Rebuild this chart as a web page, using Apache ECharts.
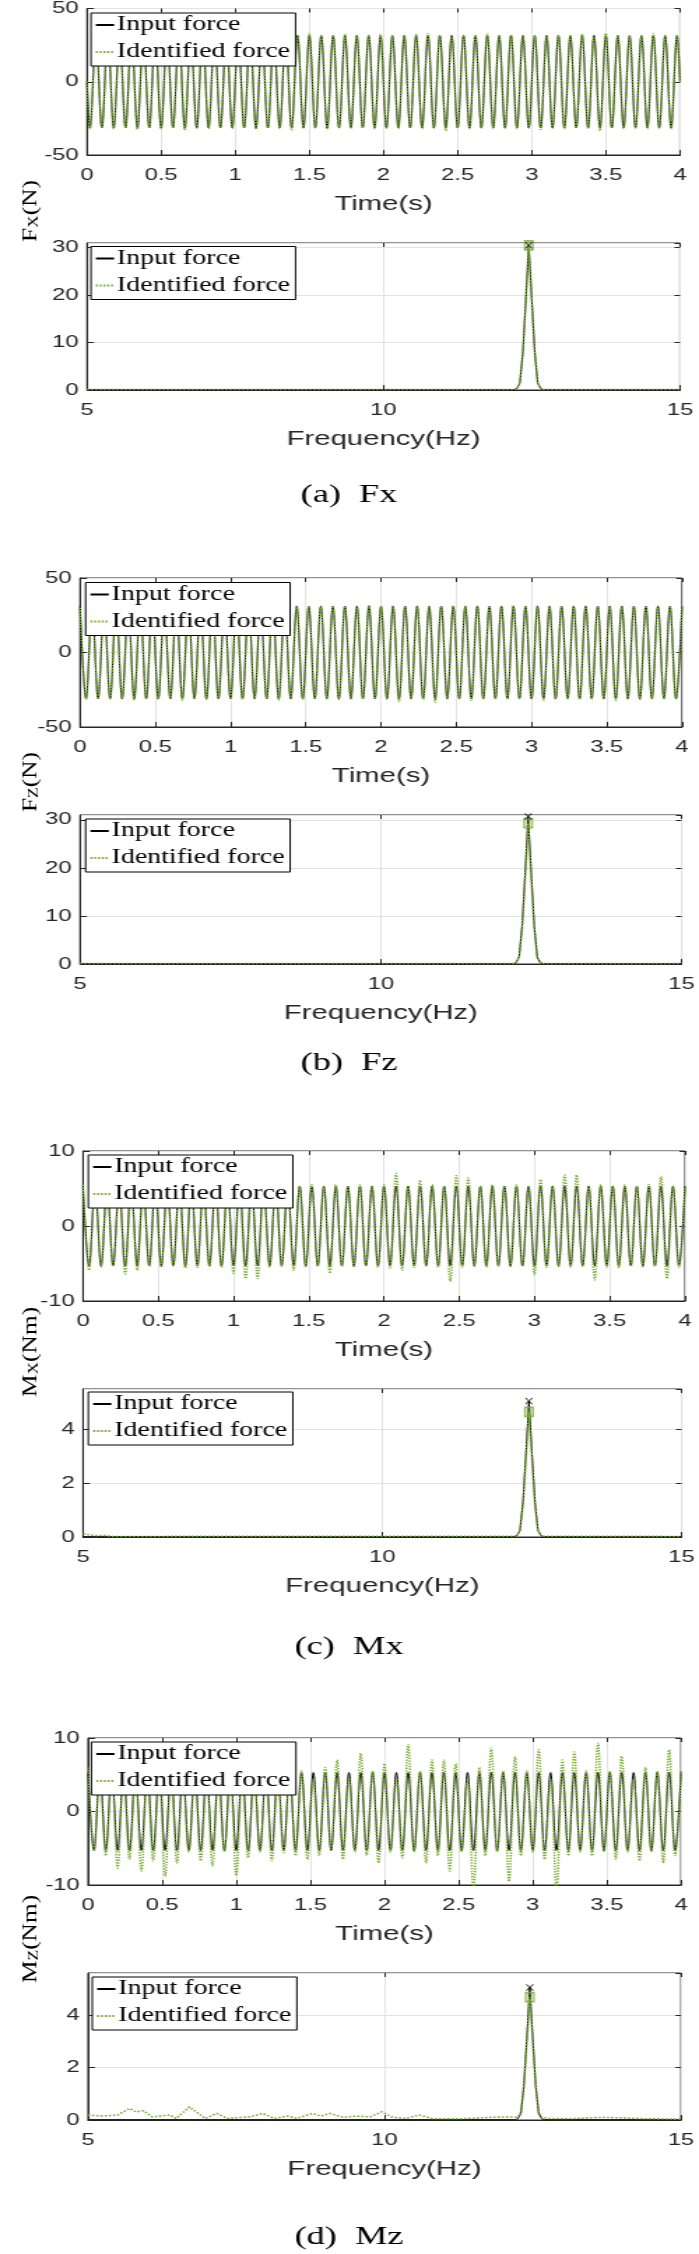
<!DOCTYPE html>
<html><head><meta charset="utf-8">
<script src="https://cdn.jsdelivr.net/npm/echarts@6/dist/echarts.min.js"></script>
<style>
html,body{margin:0;padding:0;background:#fff;overflow:hidden}
#wrap{width:699px;height:2254px;overflow:hidden;background:#fff}
#c{width:500px;height:2254px;transform:scaleX(1.398);transform-origin:0 0}
</style></head>
<body><div id="wrap"><div id="c"></div></div>
<script>
// ---------------- DATA ----------------
// Time signals: one value per half-cycle extremum (peak/trough)
const fxStartEnd = [0, 0];               // Fx value at t=0 and t=4
const fxFirstExtremumTime = 0.02;        // s
const fzFirstExtremumTime = 0.00;        // s (Fz, Mx, Mz start on a peak)
const extremumStep = 0.04;               // s, half period of the 12.5 Hz excitation

const fxInput = [
-31.5,31.5,-31.5,31.5,-31.5,31.5,-31.5,31.5,-31.5,31.5,
-31.5,31.5,-31.5,31.5,-31.5,31.5,-31.5,31.5,-31.5,31.5,
-31.5,31.5,-31.5,31.5,-31.5,31.5,-31.5,31.5,-31.5,31.5,
-31.5,31.5,-31.5,31.5,-31.5,31.5,-31.5,31.5,-31.5,31.5,
-31.5,31.5,-31.5,31.5,-31.5,31.5,-31.5,31.5,-31.5,31.5,
-31.5,31.5,-31.5,31.5,-31.5,31.5,-31.5,31.5,-31.5,31.5,
-31.5,31.5,-31.5,31.5,-31.5,31.5,-31.5,31.5,-31.5,31.5,
-31.5,31.5,-31.5,31.5,-31.5,31.5,-31.5,31.5,-31.5,31.5,
-31.5,31.5,-31.5,31.5,-31.5,31.5,-31.5,31.5,-31.5,31.5,
-31.5,31.5,-31.5,31.5,-31.5,31.5,-31.5,31.5,-31.5,31.5];
const fxIdentified = [
-32,31,-31.5,31.5,-32,31,-31.5,31.5,-32.5,31.5,
-31.5,31.5,-32,31,-31.5,31.5,-33,31.5,-31.5,31.5,
-32,31.5,-31.5,31,-32,31.5,-31.5,31.5,-32.5,31.5,
-31.5,31.5,-32,31.5,-33,31.5,-31.5,33,-31.5,31.5,
-32,31.5,-31.5,32.5,-32,31.5,-31.5,31.5,-32,32.5,
-31.5,31.5,-32,31.5,-31.5,32,-32,33,-31.5,31.5,
-33.5,31.5,-31.5,31.5,-32,31.5,-31.5,33,-32,31.5,
-31.5,32,-32,31.5,-31.5,31.5,-32.5,31.5,-31.5,31.5,
-32,31.5,-31.5,32.5,-32,31.5,-33.5,33,-31.5,31.5,
-32,31.5,-31.5,31.5,-32,33,-31.5,31.5,-32,31.5];

const fzInput = [
31,-31,31,-31,31,-31,31,-31,31,-31,
31,-31,31,-31,31,-31,31,-31,31,-31,
31,-31,31,-31,31,-31,31,-31,31,-31,
31,-31,31,-31,31,-31,31,-31,31,-31,
31,-31,31,-31,31,-31,31,-31,31,-31,
31,-31,31,-31,31,-31,31,-31,31,-31,
31,-31,31,-31,31,-31,31,-31,31,-31,
31,-31,31,-31,31,-31,31,-31,31,-31,
31,-31,31,-31,31,-31,31,-31,31,-31,
31,-31,31,-31,31,-31,31,-31,31,-31,
31];
const fzIdentified = [
30,-31.5,31,-31,31,-31.5,31,-31,31,-32,
31,-31,31,-31.5,31,-31,31,-32,31,-31,
31,-31.5,31,-31,31,-31,31,-31.5,31,-31,
31,-31,31,-32,31,-31,31,-31.5,31,-31,
31,-31,31,-31.5,31,-31,31,-31,31.5,-31,
31,-31.5,31,-33,31,-31,31,-31.5,31,-33.5,
31,-31,31.5,-31,31,-32,31,-31,31,-31,
31,-31.5,31,-31,31,-31,31,-32,31,-31,
31,-31,31,-31.5,31,-31,31,-31,31,-32,
31,-31,31,-31.5,31,-31,31,-31,31,-31,
31];

const mxInput = [
5.3,-5.3,5.3,-5.3,5.3,-5.3,5.3,-5.3,5.3,-5.3,
5.3,-5.3,5.3,-5.3,5.3,-5.3,5.3,-5.3,5.3,-5.3,
5.3,-5.3,5.3,-5.3,5.3,-5.3,5.3,-5.3,5.3,-5.3,
5.3,-5.3,5.3,-5.3,5.3,-5.3,5.3,-5.3,5.3,-5.3,
5.3,-5.3,5.3,-5.3,5.3,-5.3,5.3,-5.3,5.3,-5.3,
5.3,-5.3,5.3,-5.3,5.3,-5.3,5.3,-5.3,5.3,-5.3,
5.3,-5.3,5.3,-5.3,5.3,-5.3,5.3,-5.3,5.3,-5.3,
5.3,-5.3,5.3,-5.3,5.3,-5.3,5.3,-5.3,5.3,-5.3,
5.3,-5.3,5.3,-5.3,5.3,-5.3,5.3,-5.3,5.3,-5.3,
5.3,-5.3,5.3,-5.3,5.3,-5.3,5.3,-5.3,5.3,-5.3,
5.3];
const mxIdentified = [
5.5,-5.9,5.3,-5.5,5.3,-5.4,5.3,-6.4,5.3,-5.9,
5.3,-5.4,5.3,-5.5,5.3,-5.4,5.3,-5.6,5.3,-5.5,
5.3,-5.4,5.3,-5.5,5.3,-6.3,5.3,-7.0,5.3,-7.0,
5.3,-5.5,5.3,-5.4,5.3,-5.9,5.3,-5.5,5.5,-5.4,
5.3,-6.3,5.5,-5.4,5.3,-5.5,5.5,-5.4,5.3,-5.5,
5.5,-5.6,7.0,-5.9,5.3,-5.5,6.1,-5.4,5.5,-5.5,
5.3,-7.4,6.7,-5.5,6.4,-5.4,5.3,-5.5,5.5,-5.4,
5.3,-5.5,5.5,-5.4,5.3,-6.5,6.2,-5.5,5.3,-5.4,
6.8,-5.5,6.8,-5.4,5.3,-7.2,5.5,-5.5,5.3,-5.6,
5.5,-5.4,5.3,-5.5,5.5,-5.4,6.6,-7.0,5.3,-5.5,
5.3];

const mzInput = [
5.3,-5.3,5.3,-5.3,5.3,-5.3,5.3,-5.3,5.3,-5.3,
5.3,-5.3,5.3,-5.3,5.3,-5.3,5.3,-5.3,5.3,-5.3,
5.3,-5.3,5.3,-5.3,5.3,-5.3,5.3,-5.3,5.3,-5.3,
5.3,-5.3,5.3,-5.3,5.3,-5.3,5.3,-5.3,5.3,-5.3,
5.3,-5.3,5.3,-5.3,5.3,-5.3,5.3,-5.3,5.3,-5.3,
5.3,-5.3,5.3,-5.3,5.3,-5.3,5.3,-5.3,5.3,-5.3,
5.3,-5.3,5.3,-5.3,5.3,-5.3,5.3,-5.3,5.3,-5.3,
5.3,-5.3,5.3,-5.3,5.3,-5.3,5.3,-5.3,5.3,-5.3,
5.3,-5.3,5.3,-5.3,5.3,-5.3,5.3,-5.3,5.3,-5.3,
5.3,-5.3,5.3,-5.3,5.3,-5.3,5.3,-5.3,5.3,-5.3,
5.3];
const mzIdentified = [
6.0,-5.3,5.5,-6.0,5.0,-7.7,5.5,-6.5,5.0,-8.1,
5.5,-6.7,5.0,-8.8,5.5,-7.0,5.0,-5.5,5.5,-6.7,
5.0,-7.4,5.5,-5.5,5.0,-8.7,5.5,-6.3,5.0,-5.5,
5.5,-6.7,5.0,-5.6,5.5,-6.0,5.5,-6.5,4.3,-6.0,
6.0,-5.0,7.0,-6.5,4.3,-5.5,7.9,-6.0,5.5,-7.0,
6.5,-5.5,4.3,-6.3,9.1,-5.5,5.5,-7.0,7.0,-6.0,
7.0,-8.1,6.5,-5.5,4.3,-10.7,6.0,-6.0,8.6,-5.5,
5.5,-9.5,7.5,-6.0,5.5,-5.5,8.4,-6.5,4.3,-10.7,
7.0,-6.0,8.1,-5.5,5.5,-6.0,9.3,-5.5,5.5,-6.5,
7.5,-5.5,4.3,-6.7,6.0,-5.5,5.5,-7.0,8.4,-6.0,
5.5];

// Spectra (amplitude vs frequency, Hz)
const specFreq = [5, 12.2, 12.25, 12.3, 12.35, 12.4, 12.45, 12.5, 12.55, 12.6, 12.65, 12.7, 15];
const fxSpecInput      = [0.05,0.05,0.3,1.5,8,19,30.5,19,8,1.5,0.3,0.05,0.05];
const fxSpecIdentified = [0.1,0.1,0.3,1.5,8,19,30.5,19,8,1.5,0.3,0.1,0.1];
const fzSpecInput      = [0.05,0.05,0.3,1.5,8,19,30.7,19,8,1.5,0.3,0.05,0.05];
const fzSpecIdentified = [0.1,0.1,0.3,1.4,7.6,18,29.3,18,7.6,1.4,0.3,0.1,0.1];
const mxSpecInput      = [0.01,0.01,0.05,0.25,1.3,3.1,5.05,3.1,1.3,0.25,0.05,0.01,0.01];
const mxIdentFreq      = [5, 5.1, 5.2, 5.35, 5.5, 12.2, 12.25, 12.3, 12.35, 12.4, 12.45, 12.5, 12.55, 12.6, 12.65, 12.7, 15];
const mxSpecIdentified = [0.12,0.08,0.05,0.06,0.02,0.03,0.05,0.25,1.2,2.9,4.65,2.9,1.2,0.25,0.05,0.03,0.02];
const mzSpecInput      = [0.01,0.01,0.05,0.25,1.3,3.1,5.05,3.1,1.3,0.25,0.05,0.01,0.01];
const mzIdentFreq = [5.0,5.25,5.5,5.7,5.81,5.94,6.08,6.38,6.49,6.71,6.86,6.98,7.17,7.35,7.73,7.95,8.14,8.37,8.52,8.78,8.93,9.08,9.3,9.53,9.76,9.95,10.14,10.36,10.59,10.81,11.3,11.79,12.09,12.25,12.3,12.35,12.4,12.45,12.5,12.55,12.6,12.65,12.77,13.2,13.67,14.05,14.4,15];
const mzSpecIdentified = [0.19,0.15,0.19,0.44,0.31,0.35,0.12,0.19,0.06,0.5,0.25,0.06,0.25,0.06,0.12,0.25,0.06,0.15,0.06,0.25,0.15,0.25,0.1,0.15,0.12,0.31,0.1,0.06,0.19,0.05,0.05,0.1,0.12,0.1,0.3,1.3,3.0,4.68,3.0,1.3,0.3,0.1,0.06,0.06,0.1,0.08,0.05,0.03];

const legendNames = ['Input force', 'Identified force'];
const captions = ['(a)  Fx', '(b)  Fz', '(c)  Mx', '(d)  Mz'];
const yNames = ['F{s|X}(N)', 'F{s|Z}(N)', 'M{s|X}(Nm)', 'M{s|Z}(Nm)'];
const timeRange = [0, 4, 0.5];
const freqRange = [5, 15, 5];
const timeYRanges = [[-50, 50, 50], [-50, 50, 50], [-10, 10, 10], [-10, 10, 10]];
const freqYRanges = [[0, 31, 10], [0, 31, 10], [0, 5.5, 2], [0, 5.6, 2]];

// ---------------- LAYOUT (reference pixels) ----------------
const SX = 1.398;               // horizontal stretch of the reference picture
const gx = v => v / SX;
const layout = [
  {L:87, R:680, tT:7,    tB:155,  fT:243,  fB:390,  legT:[91,13],      legF:[91,246.5],   yl:[30.5,211],  cap:495},
  {L:80, R:682, tT:578,  tB:727,  fT:815,  fB:964,  legT:[85.6,582.5], legF:[85.6,819],   yl:[30.5,782],  cap:1063},
  {L:83, R:685, tT:1151, tB:1301, fT:1389, fB:1537, legT:[88.3,1155],  legF:[88.3,1392],  yl:[30.5,1352], cap:1647},
  {L:88, R:681, tT:1738, tB:1885, fT:1973, fB:2120, legT:[91.4,1742],  legF:[92.3,1977],  yl:[30.5,1939], cap:2237}
];
const GREEN = '#77ac30', AXIS = '#262626', GRIDC = '#e3e3e3';
const SANS = 'Liberation Sans', SERIF = 'Liberation Serif';

function times(first, step, n){ const t=[]; for(let k=0;k<n;k++) t.push(+(first+step*k).toFixed(4)); return t; }
function zip(xs, ys){ return ys.map((v,i)=>[xs[i], v]); }
function peak(xs, ys){ let m=0; ys.forEach((v,i)=>{ if(v>ys[m]) m=i; }); return [xs[m], ys[m]]; }

const tFx = [0, ...times(fxFirstExtremumTime, extremumStep, fxInput.length), 4];
const tOther = times(fzFirstExtremumTime, extremumStep, fzInput.length);
const timeData = [
  [zip(tFx, [fxStartEnd[0], ...fxInput, fxStartEnd[1]]), zip(tFx, [fxStartEnd[0], ...fxIdentified, fxStartEnd[1]])],
  [zip(tOther, fzInput), zip(tOther, fzIdentified)],
  [zip(tOther, mxInput), zip(tOther, mxIdentified)],
  [zip(tOther, mzInput), zip(tOther, mzIdentified)]
];
const specData = [
  [[specFreq, fxSpecInput], [specFreq, fxSpecIdentified]],
  [[specFreq, fzSpecInput], [specFreq, fzSpecIdentified]],
  [[specFreq, mxSpecInput], [mxIdentFreq, mxSpecIdentified]],
  [[specFreq, mzSpecInput], [mzIdentFreq, mzSpecIdentified]]
];

const grids=[], xAxes=[], yAxes=[], legends=[], series=[], graphics=[];
const crossPath = 'path://M0,1L1,0L5,4L9,0L10,1L6,5L10,9L9,10L5,6L1,10L0,9L4,5Z';

function axisCommon(){
  return {
    axisLine:{show:true, onZero:false, lineStyle:{color:AXIS, width:1}},
    axisTick:{show:true, inside:true, length:5, lineStyle:{color:AXIS}},
    splitLine:{show:true, lineStyle:{color:GRIDC, width:1}},
  };
}
function mirrorAxis(gridIndex, pos, range){
  return {gridIndex, type:'value', position:pos, min:range[0], max:range[1], interval:range[2],
    axisLine:{show:false, onZero:false}, axisTick:{show:true, inside:true, length:4, lineStyle:{color:AXIS}},
    axisLabel:{show:false}, splitLine:{show:false}};
}

layout.forEach((p, i) => {
  const left = gx(p.L), right = 500 - gx(p.R);
  [[p.tT,p.tB],[p.fT,p.fB]].forEach(([t,b]) => {
    grids.push({left, right, top:t, height:b-t, show:true, borderColor:AXIS, borderWidth:1, backgroundColor:'#fff', containLabel:false});
  });
  const gT = 2*i, gF = 2*i+1;
  const axT = xAxes.length, ayT = yAxes.length;
  // time axes
  xAxes.push(Object.assign(axisCommon(), {gridIndex:gT, type:'value', position:'bottom', min:timeRange[0], max:timeRange[1], interval:timeRange[2],
    axisLabel:{fontSize:17, color:AXIS, fontFamily:SANS, margin:12},
    name:'Time(s)', nameLocation:'middle', nameGap:39, nameTextStyle:{fontSize:21, color:AXIS, fontFamily:SANS}}));
  yAxes.push(Object.assign(axisCommon(), {gridIndex:gT, type:'value', position:'left', min:timeYRanges[i][0], max:timeYRanges[i][1], interval:timeYRanges[i][2],
    axisLabel:{fontSize:17, color:AXIS, fontFamily:SANS, margin:6}}));
  xAxes.push(mirrorAxis(gT, 'top', timeRange));
  yAxes.push(mirrorAxis(gT, 'right', timeYRanges[i]));
  const axF = xAxes.length, ayF = yAxes.length;
  // frequency axes
  xAxes.push(Object.assign(axisCommon(), {gridIndex:gF, type:'value', position:'bottom', min:freqRange[0], max:freqRange[1], interval:freqRange[2],
    axisLabel:{fontSize:17, color:AXIS, fontFamily:SANS, margin:12},
    name:'Frequency(Hz)', nameLocation:'middle', nameGap:39, nameTextStyle:{fontSize:21, color:AXIS, fontFamily:SANS}}));
  yAxes.push(Object.assign(axisCommon(), {gridIndex:gF, type:'value', position:'left', min:freqYRanges[i][0], max:freqYRanges[i][1], interval:freqYRanges[i][2],
    axisLabel:{fontSize:17, color:AXIS, fontFamily:SANS, margin:6, showMaxLabel:false}}));
  xAxes.push(mirrorAxis(gF, 'top', freqRange));
  yAxes.push(mirrorAxis(gF, 'right', freqYRanges[i]));

  // time series
  series.push({type:'line', name:legendNames[0], xAxisIndex:axT, yAxisIndex:ayT, data:timeData[i][0], smooth:0.36, symbol:'none',
    lineStyle:{color:'#000', width:1}, itemStyle:{color:'#000', opacity:0}, z:2, silent:true});
  series.push({type:'line', name:legendNames[1], xAxisIndex:axT, yAxisIndex:ayT, data:timeData[i][1], smooth:0.36, symbol:'none',
    lineStyle:{color:GREEN, width:1.5, type:[1.4,1.3]}, itemStyle:{color:GREEN, opacity:0}, z:3, silent:true});
  // spectra
  const [sIn, sId] = specData[i];
  series.push({type:'line', name:legendNames[0], xAxisIndex:axF, yAxisIndex:ayF, data:zip(sIn[0], sIn[1]), symbol:'none',
    lineStyle:{color:'#000', width:1}, itemStyle:{color:'#000', opacity:0}, z:2, silent:true});
  series.push({type:'line', name:legendNames[1], xAxisIndex:axF, yAxisIndex:ayF, data:zip(sId[0], sId[1]), symbol:'none',
    lineStyle:{color:GREEN, width:1.6, type:[1.5,1.5]}, itemStyle:{color:GREEN, opacity:0}, z:3, silent:true});
  // peak markers
  series.push({type:'scatter', name:'peakIdentified', xAxisIndex:axF, yAxisIndex:ayF, data:[peak(sId[0], sId[1])],
    symbol:'rect', symbolSize:[6,9], itemStyle:{color:'rgba(119,172,48,0.35)', borderColor:GREEN, borderWidth:1.3}, z:4, silent:true});
  series.push({type:'scatter', name:'peakInput', xAxisIndex:axF, yAxisIndex:ayF, data:[peak(sIn[0], sIn[1])],
    symbol:crossPath, symbolSize:[5.5,7], itemStyle:{color:'#000'}, z:5, silent:true});

  // legends
  [p.legT, p.legF].forEach(pos => {
    legends.push({orient:'vertical', left:gx(pos[0]), top:pos[1], padding:[2,4,4,2], itemGap:7, itemWidth:13, itemHeight:20,
      backgroundColor:'#fff', borderColor:'#000', borderWidth:1, borderRadius:0, selectedMode:false, z:10,
      itemStyle:{opacity:0},
      textStyle:{fontFamily:SERIF, fontSize:20, color:'#000', lineHeight:20, padding:[0,0,0,-3]}, data:legendNames});
  });

  // y label (shared by the two plots) and caption
  graphics.push({type:'text', x:gx(p.yl[0]), y:p.yl[1], rotation:Math.PI/2, scaleX:1.75, scaleY:1,
    style:{text:yNames[i], fontFamily:SERIF, fontSize:14.5, fill:'#000', align:'center', verticalAlign:'middle',
      rich:{s:{fontSize:10, fontFamily:SERIF, fill:'#000', padding:[5,0,0,0]}}}});
  graphics.push({type:'text', x:gx(349), y:p.cap,
    style:{text:captions[i], fontFamily:SERIF, fontSize:26, fill:'#000', align:'center', verticalAlign:'middle'}});
});

const chart = echarts.init(document.getElementById('c'), null, {renderer:'canvas'});
chart.setOption({
  animation:false, backgroundColor:'#fff',
  grid:grids, xAxis:xAxes, yAxis:yAxes, legend:legends, series:series, graphic:graphics
});
</script></body></html>
